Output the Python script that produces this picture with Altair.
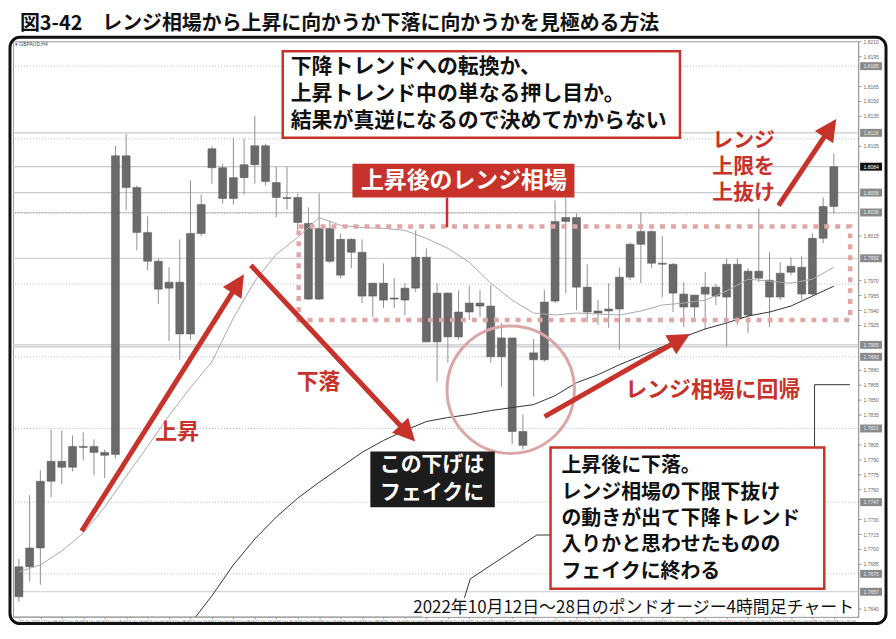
import math
import altair as alt
import pandas as pd

# ---------------- data ----------------
opens = [1.7652, 1.7682, 1.7701, 1.7768, 1.7788, 1.7782, 1.7803, 1.7803, 1.7797, 1.7795,
         1.8095, 1.8063, 1.8018, 1.7989, 1.7962, 1.7968, 1.7916, 1.8017, 1.8102, 1.8083,
         1.8052, 1.8073, 1.8086, 1.8105, 1.8068, 1.8053, 1.8053, 1.8027, 1.7951, 1.8022,
         1.7975, 1.8011, 1.7998, 1.7954, 1.7967, 1.7952, 1.7950, 1.7962, 1.7993, 1.7908,
         1.7957, 1.7913, 1.7938, 1.7947, 1.7944, 1.7893, 1.7912, 1.7818, 1.7897, 1.7890,
         1.7949, 1.8029, 1.8033, 1.7963, 1.7937, 1.7939, 1.7941, 1.7973, 1.8006, 1.8019,
         1.7987, 1.7986, 1.7956, 1.7943, 1.7956, 1.7963, 1.7953, 1.7986, 1.7935, 1.7979,
         1.7970, 1.7953, 1.7978, 1.7983, 1.7956, 1.8012, 1.8044]
closes = [1.7682, 1.7701, 1.7768, 1.7788, 1.7782, 1.7803, 1.7802, 1.7797, 1.7794, 1.8095,
          1.8063, 1.8018, 1.7989, 1.7961, 1.7968, 1.7916, 1.8017, 1.8046, 1.8083, 1.8052,
          1.8073, 1.8086, 1.8105, 1.8069, 1.8053, 1.8052, 1.8028, 1.7951, 1.8022, 1.7989,
          1.8011, 1.7998, 1.7954, 1.7967, 1.7950, 1.7951, 1.7962, 1.7993, 1.7908, 1.7957,
          1.7913, 1.7938, 1.7947, 1.7944, 1.7893, 1.7912, 1.7818, 1.7804, 1.7890, 1.7948,
          1.8029, 1.8033, 1.7963, 1.7938, 1.7939, 1.7941, 1.7973, 1.8006, 1.8019, 1.7987,
          1.7986, 1.7957, 1.7943, 1.7955, 1.7963, 1.7954, 1.7986, 1.7931, 1.7979, 1.7972,
          1.7953, 1.7977, 1.7984, 1.7956, 1.8012, 1.8044, 1.8084]
highs = [1.7690, 1.7754, 1.7779, 1.7820, 1.7819, 1.7814, 1.7817, 1.7810, 1.7800, 1.8105,
         1.8117, 1.8065, 1.8034, 1.7992, 1.7983, 1.8011, 1.8070, 1.8056, 1.8105, 1.8087,
         1.8113, 1.8112, 1.8135, 1.8107, 1.8084, 1.8084, 1.8057, 1.8043, 1.8057, 1.8030,
         1.8017, 1.8012, 1.8011, 1.7967, 1.7987, 1.7972, 1.7967, 1.8020, 1.8002, 1.7967,
         1.7958, 1.7960, 1.7964, 1.7960, 1.7965, 1.7927, 1.7912, 1.7835, 1.7911, 1.7960,
         1.8050, 1.8053, 1.8037, 1.7986, 1.7950, 1.7967, 1.7983, 1.8008, 1.8038, 1.8020,
         1.8014, 1.7987, 1.7968, 1.7955, 1.7978, 1.7966, 1.7992, 1.7992, 1.7982, 1.8042,
         1.7998, 1.7988, 1.7993, 1.7994, 1.8017, 1.8053, 1.8097]
lows = [1.7647, 1.7667, 1.7664, 1.7752, 1.7765, 1.7778, 1.7789, 1.7774, 1.7771, 1.7791,
        1.8040, 1.8000, 1.7980, 1.7946, 1.7909, 1.7890, 1.7910, 1.8014, 1.8067, 1.8047,
        1.8046, 1.8056, 1.8067, 1.8065, 1.8033, 1.8041, 1.8020, 1.7950, 1.7950, 1.7987,
        1.7972, 1.7982, 1.7947, 1.7933, 1.7942, 1.7942, 1.7935, 1.7958, 1.7908, 1.7868,
        1.7887, 1.7910, 1.7930, 1.7933, 1.7887, 1.7863, 1.7805, 1.7800, 1.7853, 1.7888,
        1.7947, 1.7957, 1.7940, 1.7928, 1.7925, 1.7922, 1.7900, 1.7970, 1.7967, 1.7982,
        1.7953, 1.7938, 1.7923, 1.7930, 1.7920, 1.7945, 1.7903, 1.7925, 1.7917, 1.7968,
        1.7923, 1.7950, 1.7975, 1.7950, 1.7954, 1.8007, 1.8037]

# short moving average, every second bar from bar 0
ma_fast_idx = list(range(0, 77, 2))
ma_fast = [1.7677, 1.7684, 1.7698, 1.7716, 1.7742, 1.7773, 1.7803, 1.7834, 1.7862, 1.7888,
           1.7932, 1.7969, 1.7996, 1.8013, 1.8033, 1.8025, 1.8023, 1.8022, 1.8020, 1.8012,
           1.8002, 1.7988, 1.7967, 1.7950, 1.7937, 1.7935, 1.7937, 1.7936, 1.7935, 1.7939,
           1.7945, 1.7947, 1.7950, 1.7959, 1.7971, 1.7969, 1.7967, 1.7971, 1.7983]
# long moving average, every second bar from bar 16
ma_slow_idx = list(range(16, 77, 2))
ma_slow = [1.7625, 1.7653, 1.7684, 1.7710, 1.7732, 1.7751, 1.7767, 1.7782, 1.7797, 1.7809,
           1.7819, 1.7828, 1.7832, 1.7835, 1.7839, 1.7842, 1.7845, 1.7854, 1.7867, 1.7875,
           1.7885, 1.7894, 1.7903, 1.7913, 1.7921, 1.7927, 1.7934, 1.7938, 1.7944, 1.7954,
           1.7964]
# third (stepped) line, mostly hidden behind the lower note box
ma_step_idx = [40.7, 42.1, 48.3, 49.5, 74.2, 74.2, 77.5]
ma_step = [1.7622, 1.7670, 1.7714, 1.7714, 1.7714, 1.7865, 1.7865]

grid_levels = [1.8185, 1.8112, 1.8037, 1.7966, 1.7893, 1.7821, 1.7747, 1.7675]
line_levels = [1.8118, 1.8084, 1.8058, 1.8038, 1.7992, 1.7905, 1.7903, 1.7657]
boxed_levels = [1.8185, 1.8118, 1.8058, 1.8038, 1.7992, 1.7905, 1.7893, 1.7821, 1.7747, 1.7675, 1.7657]
current_price = [1.8084]
all_ticks = [round(1.8210 - 0.0015 * k, 4) for k in range(39)]
# plain tick labels that are not hidden under a boxed price label
y_ticks = [t for t in all_ticks if all(abs(t - b) > 0.0009 for b in boxed_levels + current_price)]

trading_days = [12, 13, 14, 17, 18, 19, 20, 21, 24, 25, 26, 27, 28]
x_tick_idx = list(range(0, 77, 2))
x_tick_labels = ["12 Oct 2022" if i == 0 else f"{trading_days[i // 6]} Oct {(i % 6) * 4:02d}:00"
                 for i in x_tick_idx]

title_text = "図3-42　レンジ相場から上昇に向かうか下落に向かうかを見極める方法"
box1_lines = ["下降トレンドへの転換か、", "上昇トレンド中の単なる押し目か。", "結果が真逆になるので決めてかからない"]
range_label = "上昇後のレンジ相場"
break_lines = ["レンジ", "上限を", "上抜け"]
fake_lines = ["この下げは", "フェイクに"]
box2_lines = ["上昇後に下落。", "レンジ相場の下限下抜け", "の動きが出て下降トレンド", "入りかと思わせたものの", "フェイクに終わる"]
caption = "2022年10月12日～28日のポンドオージー4時間足チャート"

# ---------------- layout ----------------
JP = "Noto Sans CJK JP"
RED = "#c7322b"
OX, OY = 13, 40          # page position of plot origin
W, H = 849, 578
XS = alt.Scale(domain=[-0.09, 77.8], nice=False, zero=False)
YS = alt.Scale(domain=[1.7632, 1.8210], nice=False, zero=False)

label_expr = "[" + ",".join(f"'{s}'" for s in x_tick_labels) + "][round(datum.value / 2)]"
AX = alt.Axis(values=x_tick_idx, labelExpr=label_expr, labelFontSize=3.8, labelAlign="left",
              labelColor="#555", labelPadding=1, tickSize=2, tickColor="#999", domainColor="#999",
              grid=False, labelOverlap=False, labelBound=False, title=None, labelFont="Liberation Sans")
AY = alt.Axis(values=y_ticks, format=".4f", orient="right", labelFontSize=5, labelColor="#666",
              labelPadding=2, tickSize=3, tickColor="#999", domainColor="#999", grid=False,
              labelOverlap=False, title=None, labelFont="Liberation Sans")


def X(f):
    return alt.X(f, scale=XS, axis=AX, title=None)


def Y(f):
    return alt.Y(f, scale=YS, axis=AY, title=None)


def vx(x):
    return x - OX


def vy(y):
    return y - OY


one = pd.DataFrame({"k": [0]})


def box(x1, y1, x2, y2, **kw):
    return alt.Chart(one).mark_rect(**kw).encode(
        x=alt.value(vx(x1)), x2=alt.value(vx(x2)), y=alt.value(vy(y1)), y2=alt.value(vy(y2)))


def label(s, x, y, size, color="#111", weight="bold", align="center", font=JP):
    return alt.Chart(one).mark_text(text=s, fontSize=size, font=font, fontWeight=weight, color=color,
                                    align=align, baseline="middle").encode(
        x=alt.value(vx(x)), y=alt.value(vy(y)))


def seg(x1, y1, x2, y2, color, width):
    return alt.Chart(one).mark_rule(color=color, strokeWidth=width, strokeCap="butt").encode(
        x=alt.value(vx(x1)), y=alt.value(vy(y1)), x2=alt.value(vx(x2)), y2=alt.value(vy(y2)))


HEAD = "M0,-1L0.85,0.7L-0.85,0.7Z"


def arrow(x1, y1, x2, y2, color=RED, width=5, unit=13):
    dx, dy = x2 - x1, y2 - y1
    L = math.hypot(dx, dy)
    ux, uy = dx / L, dy / L
    cx, cy = x2 - ux * unit, y2 - uy * unit
    ang = math.degrees(math.atan2(dx, -dy)) % 360
    head = alt.Chart(one).mark_point(shape=HEAD, filled=True, size=(2 * unit) ** 2, angle=ang,
                                     color=color, opacity=1, strokeWidth=0).encode(
        x=alt.value(vx(cx)), y=alt.value(vy(cy)))
    return [seg(x1, y1, cx, cy, color, width), head]


# ---------------- data layers ----------------
df = pd.DataFrame({"i": list(range(len(opens))), "open": opens, "close": closes,
                   "high": highs, "low": lows})
fast = pd.DataFrame({"i": ma_fast_idx, "v": ma_fast})
slow = pd.DataFrame({"i": ma_slow_idx, "v": ma_slow})
step = pd.DataFrame({"i": ma_step_idx, "v": ma_step, "o": list(range(len(ma_step)))})

grid = alt.Chart(pd.DataFrame({"lvl": grid_levels})).mark_rule(
    color="#b5b5b5", strokeWidth=1, strokeDash=[1, 2]).encode(y=Y("lvl:Q"))
levels = alt.Chart(pd.DataFrame({"lvl": line_levels})).mark_rule(
    color="#c9c9c9", strokeWidth=1.2).encode(y=Y("lvl:Q"))
wicks = alt.Chart(df).mark_rule(color="#8f8f8f", strokeWidth=1, clip=True).encode(
    x=X("i:Q"), y=Y("low:Q"), y2="high:Q")
bodies = alt.Chart(df).mark_bar(size=8, color="#6a6a6a", stroke="#555", strokeWidth=0.5, clip=True).encode(
    x=X("i:Q"), y=Y("open:Q"), y2="close:Q")
fast_line = alt.Chart(fast).mark_line(color="#a8a8a8", strokeWidth=1, clip=True).encode(
    x=X("i:Q"), y=Y("v:Q"))
slow_line = alt.Chart(slow).mark_line(color="#333333", strokeWidth=1, clip=True).encode(
    x=X("i:Q"), y=Y("v:Q"))
step_line = alt.Chart(step).mark_line(color="#333333", strokeWidth=1, clip=True).encode(
    x=X("i:Q"), y=Y("v:Q"), order="o:Q")

lvl_boxes = alt.Chart(pd.DataFrame({"lvl": boxed_levels})).transform_calculate(
    top="datum.lvl + 0.0004", bot="datum.lvl - 0.0004").mark_rect(color="#8a8a8a").encode(
    x=alt.value(W + 2), x2=alt.value(W + 24), y=Y("top:Q"), y2="bot:Q")
lvl_text = alt.Chart(pd.DataFrame({"lvl": boxed_levels})).mark_text(
    fontSize=5, color="#eeeeee", font="Liberation Sans").encode(
    x=alt.value(W + 13), y=Y("lvl:Q"), text=alt.Text("lvl:Q", format=".4f"))
cur_box = alt.Chart(pd.DataFrame({"lvl": current_price})).transform_calculate(
    top="datum.lvl + 0.0004", bot="datum.lvl - 0.0004").mark_rect(color="#111").encode(
    x=alt.value(W + 2), x2=alt.value(W + 24), y=Y("top:Q"), y2="bot:Q")
cur_text = alt.Chart(pd.DataFrame({"lvl": current_price})).mark_text(
    fontSize=5, color="white", font="Liberation Sans").encode(
    x=alt.value(W + 13), y=Y("lvl:Q"), text=alt.Text("lvl:Q", format=".4f"))

layers = [grid, levels, wicks, bodies, fast_line, slow_line, step_line,
          lvl_boxes, lvl_text, cur_box, cur_text]

# ---------------- annotations ----------------
layers.append(label("▾ GBPAUD,H4", 15, 43, 5, color="#444", weight="normal", align="left",
                    font="Liberation Sans"))
layers.append(label(title_text, 20, 23, 20, align="left"))

# range rectangle and its label
layers.append(box(300, 226, 854, 320, fillOpacity=0, stroke="#e2a6a6", strokeWidth=4.5,
                  strokeDash=[5, 6]))
layers.append(seg(449, 197, 449, 227, RED, 2.5))
layers.append(box(354, 163, 577, 197, fill=RED))
layers.append(label(range_label, 466, 180, 23, color="white"))

# circle around the fake break
layers.append(alt.Chart(one).mark_point(shape="circle", filled=False, size=128 ** 2, strokeWidth=3,
                                        color="#dca6a6", opacity=1).encode(
    x=alt.value(vx(513)), y=alt.value(vy(390))))

# arrows
layers += arrow(82, 532, 245, 274)
layers += arrow(252, 265, 417, 442)
layers += arrow(547, 417, 693, 334)
layers += arrow(782, 205, 840, 118)

layers.append(label("上昇", 178, 433, 22, color=RED))
layers.append(label("下落", 320, 382, 22, color=RED))
layers.append(label("レンジ相場に回帰", 716, 390, 22, color=RED))
for k, s in enumerate(break_lines):
    layers.append(label(s, 747, 140 + 26 * k, 21, color=RED))

# top note box
layers.append(box(284, 50, 683, 137, fill="white", stroke=RED, strokeWidth=2.5))
for k, s in enumerate(box1_lines):
    layers.append(label(s, 292, 66 + 27 * k, 21, align="left"))

# black fake box
layers.append(box(372, 452, 497, 508, fill="#1c1c1c"))
for k, s in enumerate(fake_lines):
    layers.append(label(s, 434, 466 + 28 * k, 21, color="white"))

# lower note box
layers.append(box(553, 448, 828, 590, fill="white", stroke=RED, strokeWidth=2.5))
for k, s in enumerate(box2_lines):
    layers.append(label(s, 564, 467 + 26.5 * k, 20, align="left"))

# caption
layers.append(box(424, 599, 861, 618, fill="white"))
layers.append(label(caption, 858, 609, 17, weight="normal", align="right"))

# outer frame
layers.append(box(10, 36, 890, 625, fillOpacity=0, stroke="#111", strokeWidth=3, cornerRadius=10))

chart = alt.layer(*layers).properties(
    width=W, height=H,
    padding={"left": 5, "top": 32, "right": 30, "bottom": 9},
    autosize=alt.AutoSizeParams(type="none"),
    background="white",
).configure_view(stroke="#9a9a9a", strokeWidth=1)

chart.save("out.html", embed_options={"renderer": "svg", "actions": False})
